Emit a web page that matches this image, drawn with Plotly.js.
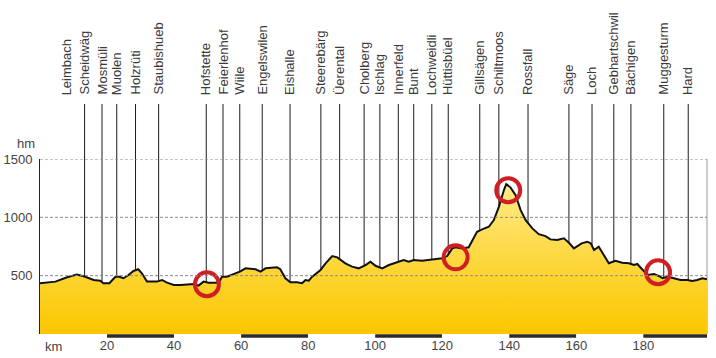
<!DOCTYPE html>
<html>
<head>
<meta charset="utf-8">
<script src="https://cdn.plot.ly/plotly-3.0.1.min.js"></script>
<style>html,body{margin:0;padding:0;background:#fff;}#chart{width:716px;height:358px;}</style>
</head>
<body>
<div id="chart"></div>
<script>
// Elevation profile (km, hm)
const profileKm = [0, 4.6, 8.1, 11.0, 13.5, 16.0, 18.0, 18.9, 20.7, 22.5, 23.7, 24.9, 26.4, 27.9, 29.3, 30.4, 31.9, 34.9, 36.4, 37.9, 39.9, 41.9, 45.9, 47.3, 48.8, 50.3, 53.3, 54.3, 55.8, 57.8, 59.8, 61.3, 64.3, 65.8, 67.3, 70.7, 71.7, 73.2, 74.7, 76.7, 78.2, 79.2, 80.2, 81.2, 83.7, 85.2, 87.2, 88.7, 91.1, 93.1, 95.1, 97.1, 98.6, 100.1, 102.1, 104.1, 106.1, 107.6, 108.5, 110.0, 111.5, 114.0, 117.0, 120.0, 121.5, 123.0, 124.0, 126.0, 127.9, 129.4, 130.4, 131.9, 133.9, 135.4, 136.9, 138.4, 139.1, 140.4, 141.9, 143.4, 144.9, 146.9, 148.8, 150.8, 152.3, 154.3, 156.3, 157.8, 159.3, 161.6, 163.3, 164.3, 165.3, 166.7, 168.2, 169.7, 171.7, 173.7, 175.7, 177.2, 178.2, 179.7, 181.2, 183.2, 184.7, 185.7, 187.2, 189.1, 191.1, 193.1, 194.6, 196.1, 197.6, 199];
const profileHm = [435, 449, 486, 509, 491, 463, 457, 435, 435, 491, 491, 478, 506, 540, 555, 520, 449, 449, 463, 440, 420, 420, 429, 415, 449, 440, 440, 491, 491, 514, 537, 563, 555, 534, 563, 572, 555, 478, 444, 444, 435, 463, 457, 491, 549, 606, 668, 657, 606, 577, 563, 591, 620, 585, 563, 591, 611, 620, 634, 620, 634, 628, 640, 649, 668, 734, 743, 734, 743, 820, 876, 897, 919, 976, 1090, 1232, 1284, 1255, 1190, 1062, 976, 905, 856, 839, 811, 805, 820, 782, 734, 777, 791, 777, 720, 748, 677, 606, 628, 611, 606, 591, 600, 549, 506, 514, 497, 478, 491, 478, 463, 463, 455, 463, 478, 469];

// Waypoints
const placeNames = ["Leimbach","Scheidwäg","Mosmüli","Muolen","Holzrüti","Staubishueb","Hofstette","Feierlenhof","Wiile","Engelswilen","Eishalle","Steerebärg","Üerental","Cholberg","Ischlag","Innerfeld","Bunt","Lochweidli","Hüttisbüel","Gillsägen","Schiltmoos","Rossfall","Säge","Loch","Gebhartschwil","Bächigen","Muggesturm","Hard"];
const placeKm = [7.9, 13.3, 18.5, 22.9, 28.5, 35.4, 49.6, 54.6, 59.6, 66.3, 74.6, 83.8, 89.4, 96.7, 101.4, 106.9, 111.5, 116.9, 121.8, 131.2, 136.9, 145.6, 157.8, 164.7, 171.2, 176.3, 186.1, 193.4];
const placeHasLine = [false, true, true, true, true, true, true, true, true, true, true, true, true, true, true, true, true, true, true, true, true, true, true, true, true, true, true, true];

// Highlight circles
const circleKm = [49.8, 124.0, 139.7, 184.4];
const circleHm = [426, 657, 1232, 529];

// Axes
const xTickVals = [20, 40, 60, 80, 100, 120, 140, 160, 180];
const yTickVals = [500, 1000, 1500];
const scaleBarStarts = [0, 20, 40, 60, 80, 100, 120, 140, 160, 180];
const xMax = 199;

const FONT = "Liberation Sans, Arial, sans-serif";

const shapes = [];
// scale bar under x axis
scaleBarStarts.forEach((s, i) => {
  shapes.push({type:'rect', xref:'x', yref:'paper', x0:s, x1:Math.min(s+20, xMax), y0:-0.022, y1:-0.002,
    fillcolor: i % 2 ? '#2b2b2b' : '#ffffff', line:{width:0}, layer:'above'});
});
// waypoint vertical lines
placeKm.forEach((k, i) => {
  if (!placeHasLine[i]) return;
  shapes.push({type:'line', xref:'x', yref:'paper', x0:k, x1:k, y0:0, y1:1.314,
    line:{color:'#1a1a1a', width:1}, layer:'below'});
});
// right border
shapes.push({type:'line', xref:'paper', yref:'y', x0:1, x1:1, y0:0, y1:1500, line:{color:'#9a9a9a', width:1}, layer:'below'});
// dashed gridlines above the fill
yTickVals.forEach(v => {
  shapes.push({type:'line', xref:'paper', yref:'y', x0:0, x1:1, y0:v, y1:v,
    line:{color:'#8a8a8a', width:1, dash:'3px,2px'}, layer:'above'});
});

const annotations = placeNames.map((n, i) => ({
  text: n, x: placeKm[i], xref:'x', y: 1.355, yref:'paper', textangle:-90,
  xanchor:'center', yanchor:'bottom', showarrow:false,
  font:{family:FONT, size:13, color:'#3a3a3a'}
}));
annotations.push({text:'hm', xref:'paper', yref:'paper', x:-0.021, y:1.091, xanchor:'center', yanchor:'middle', showarrow:false, font:{family:FONT, size:13, color:'#444'}});
annotations.push({text:'km', xref:'paper', yref:'paper', x:0.004, y:-0.071, xanchor:'left', yanchor:'middle', showarrow:false, font:{family:FONT, size:13, color:'#444'}});

const traces = [
  {
    x: profileKm, y: profileHm, type:'scatter', mode:'lines', fill:'tozeroy',
    line:{color:'#111', width:2, shape:'linear'},
    fillcolor:'#fdd21e',
    fillgradient:{type:'vertical', start:0, stop:1300, colorscale:[[0,'#fcc600'],[0.4,'#fdd431'],[1,'#ffeb8c']]},
    hoverinfo:'skip'
  },
  {
    x: circleKm, y: circleHm, type:'scatter', mode:'markers',
    marker:{symbol:'circle-open', size:24, color:'#cf1f23', line:{width:4, color:'#cf1f23'}},
    hoverinfo:'skip', cliponaxis:false
  }
];

const layout = {
  width:716, height:358,
  margin:{l:40, r:9, t:159, b:24},
  paper_bgcolor:'#fff', plot_bgcolor:'#fff',
  showlegend:false,
  xaxis:{range:[0, xMax], tickvals:xTickVals, ticktext:xTickVals.map(String), showgrid:false, zeroline:false, showline:false, ticks:'', ticklabelstandoff:2,
    tickfont:{family:FONT, size:13, color:'#444'}, fixedrange:true},
  yaxis:{range:[0, 1500], tickvals:yTickVals, ticktext:yTickVals.map(String), showgrid:false, zeroline:false, showline:true, linecolor:'#222', linewidth:1, ticks:'', ticklabelstandoff:4,
    tickfont:{family:FONT, size:13, color:'#444'}, fixedrange:true},
  shapes: shapes,
  annotations: annotations
};

Plotly.newPlot('chart', traces, layout, {displayModeBar:false, staticPlot:true});
</script>
</body>
</html>
